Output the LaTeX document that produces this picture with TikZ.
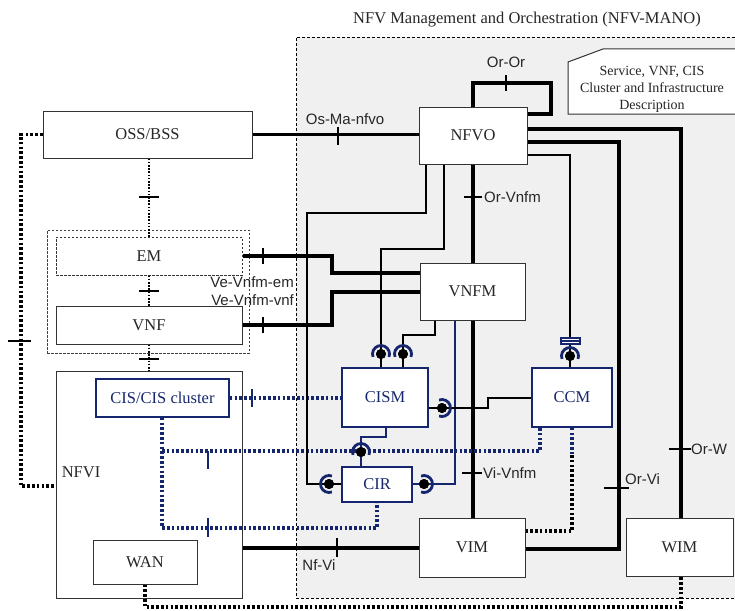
\documentclass[tikz,border=0pt]{standalone}
\usepackage{fontspec}
\setmainfont{Liberation Serif}
\newfontfamily\lsans{Liberation Sans}
\usetikzlibrary{calc}
\definecolor{navy}{RGB}{22,38,110}
\definecolor{manogray}{RGB}{240,240,240}
\tikzset{
  box/.style={draw=black!80, line width=1pt, fill=white, inner sep=0pt, font=\fontsize{16.5}{18}\selectfont, text=black!85},
  bbox/.style={box, draw=navy, line width=1.6pt, text=navy},
  ifl/.style={font=\lsans\fontsize{15}{17}\selectfont, text=black!85, inner sep=0pt},
  thickl/.style={line width=3.1pt},
  thinl/.style={line width=1.4pt},
  dotb/.style={line width=3.4pt, dash pattern=on 2.6pt off 2.2pt},
  dotn/.style={dotb, draw=navy},
  dotthin/.style={line width=1.6pt, dash pattern=on 1.6pt off 1.6pt},
  tickl/.style={line width=1.2pt},
  ball/.style={circle, fill=black, inner sep=0pt, minimum size=10pt},
  socket/.style={draw=navy, line width=2.8pt}
}
\newcommand\sockT[1]{\draw[socket] ($(#1)+(160:8.5)$) arc[start angle=160, end angle=380, radius=8.5];}
\newcommand\sockR[1]{\draw[socket] ($(#1)+(-110:8.5)$) arc[start angle=-110, end angle=110, radius=8.5];}
\newcommand\sockL[1]{\draw[socket] ($(#1)+(70:8.5)$) arc[start angle=70, end angle=290, radius=8.5];}
\begin{document}
\begin{tikzpicture}[x=1pt,y=-1pt]
\useasboundingbox (0,0) rectangle (735,610);
% MANO area
\fill[manogray] (296,37) rectangle (745,598);
\draw[line width=0.9pt, dash pattern=on 3pt off 2pt] (745,37) -- (296,37) -- (296,598) -- (745,598);
\node[font=\fontsize{16.5}{18}\selectfont, text=black!85] (title) at (527,20) {NFV Management and Orchestration (NFV-MANO)};
% description
\draw[line width=1pt, draw=black!80, fill=white] (740,49) -- (603,49) -- (568,62) -- (568,114) -- (740,114);
\node[align=center, font=\fontsize{14}{17}\selectfont, text=black!85] (desc) at (652,89) {Service, VNF, CIS\\Cluster and Infrastructure\\Description};

% left side
\node[box, minimum width=209pt, minimum height=47pt] (oss) at (147.5,134.5) {OSS/BSS};
\node[draw=black!75, line width=0.9pt, dash pattern=on 2.5pt off 1.5pt, minimum width=202pt, minimum height=123pt, inner sep=0pt] (grp) at (148,291.5) {};
\node[box, dash pattern=on 2.5pt off 1.5pt, minimum width=186pt, minimum height=38pt] (em) at (149,256) {EM};
\node[box, minimum width=186pt, minimum height=38pt] (vnf) at (149,325) {VNF};
\node[box, minimum width=186pt, minimum height=227pt] (nfvi) at (149,484.5) {};
\node[font=\fontsize{16.5}{18}\selectfont, text=black!85, inner sep=0pt] (nfvil) at (81,472) {NFVI};
\node[bbox, minimum width=133pt, minimum height=38pt] (cis) at (162.5,398) {CIS/CIS cluster};
\node[box, minimum width=104pt, minimum height=44pt] (wan) at (145,562) {WAN};

% MANO boxes
\node[box, minimum width=108pt, minimum height=57pt] (nfvo) at (473,135.5) {NFVO};
\node[box, minimum width=105pt, minimum height=57pt] (vnfm) at (472.5,291.5) {VNFM};
\node[bbox, minimum width=86pt, minimum height=59pt] (cism) at (385,397.5) {CISM};
\node[bbox, minimum width=80pt, minimum height=59pt] (ccm) at (572,397.5) {CCM};
\node[bbox, minimum width=70pt, minimum height=35pt] (cir) at (377,484.5) {CIR};
\node[box, minimum width=106pt, minimum height=59pt] (vim) at (472,547.5) {VIM};
\node[box, minimum width=107pt, minimum height=58pt] (wim) at (679.5,547) {WIM};

% Or-Or
\coordinate (oror) at (551,83);
\draw[line width=3.8pt] (473,0 |- nfvo.north) |- (oror) |- (nfvo.east |- 0,114);
\draw[tickl] (506,75) -- (506,91);
\node[ifl] (lor) at (506,62) {Or-Or};
% Os-Ma-nfvo
\draw[thickl] (oss.east) -- (nfvo.west |- oss.east);
\draw[tickl] (338,127) -- (338,145);
\node[ifl] (losma) at (345,119) {Os-Ma-nfvo};
% OSS - EM - VNF - NFVI dotted
\draw[dotthin] (149,0 |- oss.south) -- (149,0 |- em.north);
\draw[dotthin] (149,0 |- em.south) -- (149,0 |- vnf.north);
\draw[dotthin] (149,0 |- vnf.south) -- (149,0 |- nfvi.north);
\draw[tickl] (139,197) -- (159,197);
\draw[tickl] (139,291) -- (159,291);
\draw[tickl] (139,359) -- (159,359);
% left big dotted
\draw[dotb] (oss.west) -| (21,486) -- (nfvi.west |- 0,486);
\draw[tickl] (8,341) -- (31,341);
% Ve-Vnfm
\draw[line width=3.3pt] (em.east) -- (332,256) |- (vnfm.west |- 0,273);
\draw[line width=3.3pt] (vnf.east) -- (332,325) |- (vnfm.west |- 0,292);
\draw[tickl] (263,248) -- (263,264);
\draw[tickl] (263,317) -- (263,333);
\node[ifl, anchor=east] (lvem) at (294,282) {Ve-Vnfm-em};
\node[ifl, anchor=east] (lvvnf) at (294,300) {Ve-Vnfm-vnf};
% Or-Vnfm
\draw[thickl] (473,0 |- nfvo.south) -- (473,0 |- vnfm.north);
\draw[tickl] (464,197) -- (482,197);
\node[ifl, anchor=west] (lorv) at (484,197) {Or-Vnfm};
% Vi-Vnfm
\draw[thickl] (473,0 |- vnfm.south) -- (473,0 |- vim.north);
\draw[tickl] (462,473) -- (482,473);
\node[ifl, anchor=west] (lviv) at (483,473) {Vi-Vnfm};
% Or-W
\draw[line width=3.3pt] (nfvo.east |- 0,129) -| (681,0 |- wim.north);
\draw[tickl] (669,449) -- (691,449);
\node[ifl, anchor=west] (lorw) at (691,449) {Or-W};
% Or-Vi
\draw[line width=3.5pt] (nfvo.east |- 0,142) -| (619,549) -- (vim.east |- 0,549);
\draw[tickl] (604,488) -- (629,488);
\node[ifl, anchor=west] (lorvi) at (625,479) {Or-Vi};
% Nf-Vi
\draw[thickl] (nfvi.east |- 0,548) -- (vim.west |- 0,548);
\draw[tickl] (337,538) -- (337,557);
\node[ifl] (lnfvi) at (319,565) {Nf-Vi};

% blue dotted
\draw[dotn] (cis.east) -- (cism.west |- cis.east);
\draw[tickl, draw=navy] (252,389) -- (252,407);
\draw[dotn] (162,0 |- cis.south) -- (162,528) -| (377,0 |- cir.south);
\draw[dotn] (162,451) -| (540,0 |- ccm.south);
\draw[tickl, draw=navy] (208,451) -- (208,469);
\draw[tickl, draw=navy] (208,518) -- (208,537);
\draw[dotn] (572,0 |- ccm.south) -- (572,455);
\draw[dotb] (572,455) |- (vim.east |- 0,531);
% WAN to WIM dotted
\draw[dotb] (wan.south) -- (145,607) -| (681,0 |- wim.south);

% thin lines with sockets
\node[ball] (bcirl) at (329,484) {};
\node[ball] (bcirr) at (424,484) {};
\node[ball] (bcirt) at (361,452) {};
\node[ball] (bcism1) at (381,354) {};
\node[ball] (bcism2) at (403,354) {};
\node[ball] (bcismr) at (442,408) {};
\node[ball] (bccm) at (570,356) {};
\draw[thinl] (426,0 |- nfvo.south) |- (307,213) |- (bcirl) -- (cir.west |- bcirl);
\draw[thinl] (444,0 |- nfvo.south) |- (381,249) -- (381,0 |- cism.north);
\draw[thinl] (435,0 |- vnfm.south) |- (403,335) -- (403,0 |- cism.north);
\draw[draw=navy, line width=1.8pt] (455,0 |- vnfm.south) |- (bcirr) -- (cir.east |- bcirr);
\draw[thinl] (cism.east |- bcismr) -- (488,408) -- (488,398) -- (ccm.west |- 0,398);
\draw[thinl, draw=navy] (386,0 |- cism.south) |- (361,437) -- (361,0 |- cir.north);
\draw[thinl] (nfvo.east |- 0,155) -| (570,0 |- ccm.north);
\node[ball] at (bcirl) {};
\node[ball] at (bcirr) {};
\node[ball] at (bcirt) {};
\node[ball] at (bcism1) {};
\node[ball] at (bcism2) {};
\node[ball] at (bcismr) {};
\node[ball] at (bccm) {};
\sockL{bcirl}
\sockR{bcirr}
\sockT{bcirt}
\sockT{bcism1}
\sockT{bcism2}
\sockR{bcismr}
\sockT{bccm}
\draw[draw=navy, fill=white, line width=1.6pt] (561,338) rectangle (580,344);
\draw[draw=navy, line width=1.1pt] (561,341) -- (580,341);
\end{tikzpicture}
\end{document}
